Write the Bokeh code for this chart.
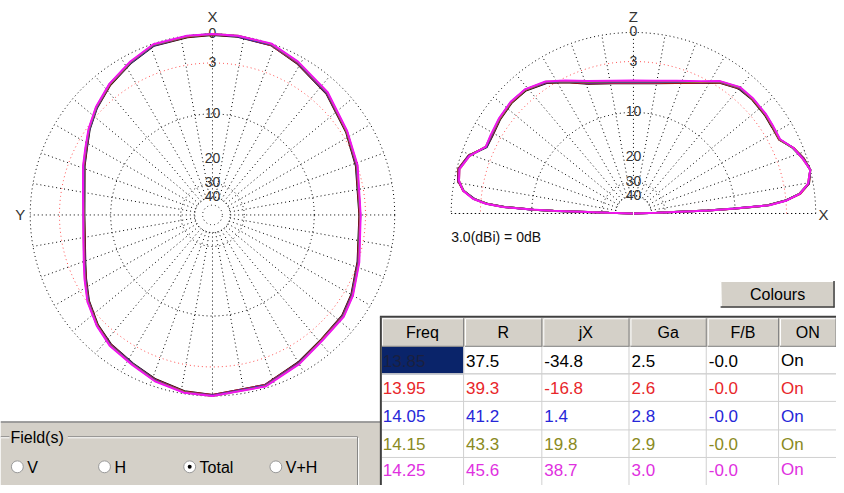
import numpy as np
from bokeh.plotting import figure
from bokeh.models import Range1d, ColumnDataSource
from bokeh.core.properties import value
from bokeh.embed import file_html
from bokeh.resources import INLINE

# ---------------- data ----------------
FREQS = [13.85, 13.95, 14.05, 14.15, 14.25]
R_VALS = [37.5, 39.3, 41.2, 43.3, 45.6]
JX_VALS = [-34.8, -16.8, 1.4, 19.8, 38.7]
GA_VALS = [2.5, 2.6, 2.8, 2.9, 3.0]
FB_VALS = [-0.0, -0.0, -0.0, -0.0, -0.0]
ON_VALS = ["On", "On", "On", "On", "On"]
HEADERS = ["Freq", "R", "jX", "Ga", "F/B", "ON"]
MAX_GAIN_DBI = 3.0

RING_DB = [0, 3, 10, 30, 40, 50]
LABEL_DB = [0, 3, 10, 20, 30, 40]

# azimuth pattern (deg, counter-clockwise from X at top), gain in dB relative to max
AZ_ANGLES = [0, 8, 19, 28, 38, 47, 55, 62, 69, 80,
             90, 100, 111, 117, 125, 134, 142, 152, 161, 171,
             180, 197, 210, 221, 232, 240, 252, 270, 289, 302,
             317, 331, 341, 352, 360]
AZ_1385 = [-0.1, -0.15, -0.2, -0.85, -1.6, -2.45, -3.35, -4.25, -4.9, -5.8,
           -6.05, -5.85, -5.0, -4.3, -3.25, -2.3, -1.7, -1.25, -0.7, -0.25,
           -0.1, -0.3, -1.05, -1.6, -1.75, -2.2, -3.05, -3.7, -3.15, -2.5,
           -1.5, -0.75, -0.15, -0.1, -0.1]
AZ_1395 = [-0.05, -0.1, -0.15, -0.8, -1.55, -2.4, -3.3, -4.2, -4.85, -5.75,
           -6.0, -5.8, -4.95, -4.25, -3.2, -2.25, -1.65, -1.2, -0.65, -0.2,
           -0.1, -0.3, -1.0, -1.55, -1.7, -2.15, -3.0, -3.65, -3.1, -2.45,
           -1.45, -0.7, -0.15, -0.05, -0.05]
AZ_1405 = [0.0, -0.05, -0.15, -0.8, -1.5, -2.4, -3.3, -4.15, -4.8, -5.7,
           -5.95, -5.75, -4.9, -4.2, -3.15, -2.2, -1.6, -1.2, -0.6, -0.15,
           -0.05, -0.25, -0.95, -1.5, -1.65, -2.1, -2.95, -3.6, -3.05, -2.4,
           -1.4, -0.65, -0.1, -0.05, 0.0]
AZ_1415 = [0.0, -0.05, -0.1, -0.75, -1.5, -2.35, -3.25, -4.1, -4.75, -5.65,
           -5.95, -5.7, -4.85, -4.15, -3.1, -2.2, -1.55, -1.15, -0.55, -0.15,
           0.0, -0.2, -0.9, -1.5, -1.6, -2.05, -2.9, -3.6, -3.0, -2.4,
           -1.35, -0.6, -0.05, 0.0, 0.0]
AZ_1425 = [0.0, 0.0, -0.05, -0.7, -1.45, -2.3, -3.2, -4.05, -4.7, -5.6,
           -5.9, -5.65, -4.8, -4.1, -3.05, -2.15, -1.5, -1.1, -0.5, -0.1,
           0.0, -0.15, -0.85, -1.45, -1.55, -2.0, -2.85, -3.55, -2.95, -2.35,
           -1.3, -0.55, 0.0, 0.0, 0.0]

# elevation pattern (deg above X horizon, through Z at 90), gain in dB relative to max
EL_ANGLES = [0, 1.6, 2.3, 2.8, 3.2, 3.5, 4.9, 6.8, 9.7, 14,
             18, 22.5, 27, 32, 37, 44, 50, 57, 63, 72,
             81, 90, 99, 109, 117, 123.5, 131, 137.5, 144.5, 151,
             155.5, 160.6, 165.6, 169.3, 172.3, 174.7, 176.2, 177.1, 177.8, 178.1,
             178.5, 180]
EL_1385 = [-99, -35.6, -15.5, -10.4, -7.5, -5.3, -3.05, -1.45, -0.4, 0.0,
           -0.3, -0.9, -1.85, -1.85, -1.75, -1.7, -1.8, -2.55, -3.65, -4.75,
           -5.45, -5.65, -5.45, -4.75, -3.55, -2.5, -1.8, -1.7, -1.85, -2.1,
           -2.1, -0.7, -0.15, -0.35, -1.05, -2.25, -3.8, -5.95, -10.4, -14.3,
           -34.6, -99]
EL_1395 = [-99, -35.4, -15.4, -10.3, -7.4, -5.2, -3.0, -1.4, -0.4, 0.0,
           -0.3, -0.9, -1.85, -1.8, -1.7, -1.65, -1.75, -2.5, -3.6, -4.7,
           -5.4, -5.6, -5.4, -4.7, -3.5, -2.45, -1.75, -1.65, -1.8, -2.05,
           -2.05, -0.7, -0.15, -0.35, -1.0, -2.2, -3.75, -5.9, -10.3, -14.2,
           -34.4, -99]
EL_1405 = [-99, -35.2, -15.3, -10.2, -7.35, -5.15, -3.0, -1.5, -0.45, 0.0,
           -0.35, -0.95, -1.8, -1.75, -1.65, -1.6, -1.7, -2.45, -3.55, -4.6,
           -5.3, -5.5, -5.3, -4.6, -3.45, -2.4, -1.7, -1.6, -1.75, -2.0,
           -2.05, -0.75, -0.2, -0.4, -1.05, -2.2, -3.7, -5.85, -10.2, -14.1,
           -34.2, -99]
EL_1415 = [-99, -35.0, -15.2, -10.1, -7.3, -5.1, -2.95, -1.5, -0.5, 0.0,
           -0.4, -0.95, -1.8, -1.75, -1.65, -1.6, -1.65, -2.4, -3.5, -4.55,
           -5.2, -5.4, -5.2, -4.5, -3.4, -2.35, -1.7, -1.6, -1.75, -1.95,
           -2.0, -0.8, -0.25, -0.45, -1.05, -2.15, -3.65, -5.8, -10.1, -14.0,
           -34.0, -99]
EL_1425 = [-99, -34.7, -15.0, -10.0, -7.2, -5.0, -2.9, -1.45, -0.5, 0.0,
           -0.4, -0.9, -1.75, -1.7, -1.6, -1.55, -1.6, -2.35, -3.4, -4.45,
           -5.1, -5.3, -5.1, -4.4, -3.3, -2.3, -1.65, -1.55, -1.7, -1.9,
           -2.0, -0.8, -0.25, -0.45, -1.0, -2.1, -3.6, -5.7, -10.0, -13.8,
           -33.8, -99]

AZ_SERIES = [AZ_1385, AZ_1395, AZ_1405, AZ_1415, AZ_1425]
EL_SERIES = [EL_1385, EL_1395, EL_1405, EL_1415, EL_1425]
LINE_COLORS = ["#000000", "#e01818", "#1c1cf0", "#8c8c14", "#f014f0"]
TEXT_COLORS = ["#000000", "#e8262a", "#2626d8", "#8a8a22", "#e030e0"]

# ---------------- layout ----------------
FONT = value("Liberation Sans")
GRAY = "#d4d0c8"
R = 184.0
CX1, CY1 = 214.0, 218.0
CX2, CY2 = 639.0, 216.5


def rad(gain_db):
    return R * 0.89 ** (-np.asarray(gain_db, dtype=float) / 2.0)


def az_xy(ang, gain):
    a = np.radians(np.asarray(ang, dtype=float))
    r = rad(gain)
    return CX1 - r * np.sin(a), CY1 - r * np.cos(a)


def el_xy(ang, gain):
    a = np.radians(np.asarray(ang, dtype=float))
    r = rad(gain)
    return CX2 + r * np.cos(a), CY2 - r * np.sin(a)


p = figure(width=836, height=485, x_range=Range1d(0, 844), y_range=Range1d(493, 0),
           output_backend="svg", toolbar_location=None, min_border=0,
           x_axis_type=None, y_axis_type=None)
p.grid.visible = False
p.outline_line_color = None
p.background_fill_color = "white"
p.border_fill_color = "white"

# ---------- polar grids ----------
t_full = np.radians(np.arange(0, 361, 1))
t_half = np.radians(np.arange(0, 181, 1))
for db in RING_DB:
    rr = rad(-db)
    col = "#ff5050" if db == 3 else "#000000"
    p.line(CX1 + rr * np.cos(t_full), CY1 - rr * np.sin(t_full),
           line_color=col, line_dash="1 3", line_width=1)
    if db <= 40:
        p.line(CX2 + rr * np.cos(t_half), CY2 - rr * np.sin(t_half),
               line_color=col, line_dash="1 3", line_width=1)

r_in = float(rad(-40))
xs, ys = [], []
for ang in range(0, 360, 10):
    a = np.radians(ang)
    xs.append([CX1 + r_in * np.cos(a), CX1 + R * np.cos(a)])
    ys.append([CY1 - r_in * np.sin(a), CY1 - R * np.sin(a)])
for ang in range(0, 181, 10):
    a = np.radians(ang)
    xs.append([CX2 + r_in * np.cos(a), CX2 + R * np.cos(a)])
    ys.append([CY2 - r_in * np.sin(a), CY2 - R * np.sin(a)])
p.multi_line(xs, ys, line_color="#000000", line_dash="1 3", line_width=1)
# horizon line of the elevation plot
p.line([CX2 - R, CX2 + R], [CY2, CY2], line_color="#000000", line_dash="1 3", line_width=1)

# ring labels
lab_txt = [str(d) for d in LABEL_DB]
lab_r = rad(-np.array(LABEL_DB, dtype=float))
p.text(x=[CX1] * len(LABEL_DB), y=list(CY1 - lab_r - 1), text=lab_txt,
       text_font=FONT, text_font_size="14px", text_color="#333333",
       text_align="center", text_baseline="middle")
p.text(x=[CX2] * len(LABEL_DB), y=list(CY2 - lab_r - 1), text=lab_txt,
       text_font=FONT, text_font_size="14px", text_color="#333333",
       text_align="center", text_baseline="middle")
# axis letters
p.text(x=[CX1, CX1 - R - 10, CX2, CX2 + R + 8], y=[16, CY1, 16, CY2 + 1],
       text=["X", "Y", "Z", "X"], text_font=FONT, text_font_size="15px",
       text_color="#333333", text_align="center", text_baseline="middle")
p.text(x=[455], y=[240], text=[f"{MAX_GAIN_DBI:.1f}(dBi) = 0dB"], text_font=FONT,
       text_font_size="14px", text_color="#111111", text_align="left",
       text_baseline="middle")

# ---------- patterns ----------
for gains, col in zip(AZ_SERIES, LINE_COLORS):
    x, y = az_xy(AZ_ANGLES, gains)
    p.line(x, y, line_color=col, line_width=2)
for gains, col in zip(EL_SERIES, LINE_COLORS):
    x, y = el_xy(EL_ANGLES, gains)
    p.line(x, y, line_color=col, line_width=2)

# ---------- bottom-left panel ----------
p.quad(left=[0], right=[384], top=[429], bottom=[494], fill_color=GRAY, line_color=None)
p.segment(x0=[0], y0=[428.5], x1=[384], y1=[428.5], line_color="#808080", line_width=1.5)
p.segment(x0=[0, 0, 360.5, 361.5], y0=[443.5, 444.5, 443.5, 444.5],
          x1=[360.5, 360.5, 360.5, 361.5], y1=[443.5, 444.5, 494, 494],
          line_color=["#808080", "#ffffff", "#808080", "#ffffff"], line_width=1)
p.quad(left=[9], right=[68], top=[437], bottom=[452], fill_color=GRAY, line_color=None)
p.text(x=[10], y=[444], text=["Field(s)"], text_font=FONT, text_font_size="16px",
       text_color="#000000", text_align="left", text_baseline="middle")
RADIO_X = [17, 105, 191, 278]
RADIO_LBL = ["V", "H", "Total", "V+H"]
p.circle(x=RADIO_X, y=[474] * 4, radius=6, fill_color="white", line_color="#9a9a9a")
p.circle(x=[191], y=[474], radius=2, fill_color="black", line_color=None)
p.text(x=[x + 10 for x in RADIO_X], y=[475] * 4, text=RADIO_LBL, text_font=FONT,
       text_font_size="16px", text_color="#000000", text_align="left",
       text_baseline="middle")

# ---------- Colours button ----------
p.quad(left=[727], right=[842], top=[285], bottom=[312], fill_color=GRAY, line_color=None)
p.segment(x0=[727, 727, 727, 841.5], y0=[285.5, 285.5, 311.5, 285],
          x1=[842, 727.5, 842, 841.5], y1=[285.5, 312, 311.5, 312],
          line_color=["#ffffff", "#ffffff", "#404040", "#404040"], line_width=1.5)
p.text(x=[784.5], y=[298.5], text=["Colours"], text_font=FONT, text_font_size="16px",
       text_color="#000000", text_align="center", text_baseline="middle")

# ---------- table ----------
COL_X = [384, 468, 547, 635, 713, 786, 844]
ROW_Y = [322, 352, 380, 408, 437, 465, 493]
p.quad(left=[385], right=[844], top=[323], bottom=[352], fill_color=GRAY, line_color=None)
p.quad(left=[385], right=[844], top=[352], bottom=[494], fill_color="white", line_color=None)
p.quad(left=[385], right=[468], top=[352], bottom=[380], fill_color="#0a246a", line_color=None)
# header bevels
for i in range(6):
    l, r_ = COL_X[i], COL_X[i + 1]
    p.segment(x0=[l + 1.5, l + 1.5], y0=[323.5, 323.5], x1=[r_, l + 1.5], y1=[323.5, 351],
              line_color="#ffffff", line_width=1)
    p.segment(x0=[r_ - 0.5, l + 1], y0=[323, 351.5], x1=[r_ - 0.5, r_], y1=[352, 351.5],
              line_color="#808080", line_width=1)
# data grid
for xg in COL_X[1:-1]:
    p.segment(x0=[xg - 0.5], y0=[352], x1=[xg - 0.5], y1=[494], line_color="#d0d0d0")
for yg in ROW_Y[2:-1]:
    p.segment(x0=[385], y0=[yg - 0.5], x1=[844], y1=[yg - 0.5], line_color="#d0d0d0")
p.segment(x0=[385], y0=[379.5], x1=[844], y1=[379.5], line_color="#d0d0d0")
# outer frame
p.segment(x0=[384, 383], y0=[322, 321.5], x1=[384, 844], y1=[494, 321.5],
          line_color="#404040", line_width=2)
hx = [(COL_X[i] + COL_X[i + 1]) / 2 for i in range(6)]
p.text(x=hx, y=[337] * 6, text=HEADERS, text_font=FONT, text_font_size="16px",
       text_color="#000000", text_align="center", text_baseline="middle")

tx, ty, tt, tc = [], [], [], []
for i in range(len(FREQS)):
    cells = [f"{FREQS[i]:.2f}", f"{R_VALS[i]:.1f}", f"{JX_VALS[i]:.1f}",
             f"{GA_VALS[i]:.1f}", f"{FB_VALS[i]:.1f}", ON_VALS[i]]
    yc = (ROW_Y[i + 1] + ROW_Y[i + 2]) / 2
    if i == len(FREQS) - 1:
        yc -= 2
    for j, c in enumerate(cells):
        tx.append(COL_X[j] + 2)
        ty.append(yc)
        tt.append(c)
        tc.append("#1a2040" if (i == 0 and j == 0) else TEXT_COLORS[i])
src = ColumnDataSource(dict(x=tx, y=ty, text=tt, color=tc))
p.text(x="x", y="y", text="text", text_color="color", source=src, text_font=FONT,
       text_font_size="17px", text_align="left", text_baseline="middle")

open("out.html", "w").write(file_html(p, INLINE))
